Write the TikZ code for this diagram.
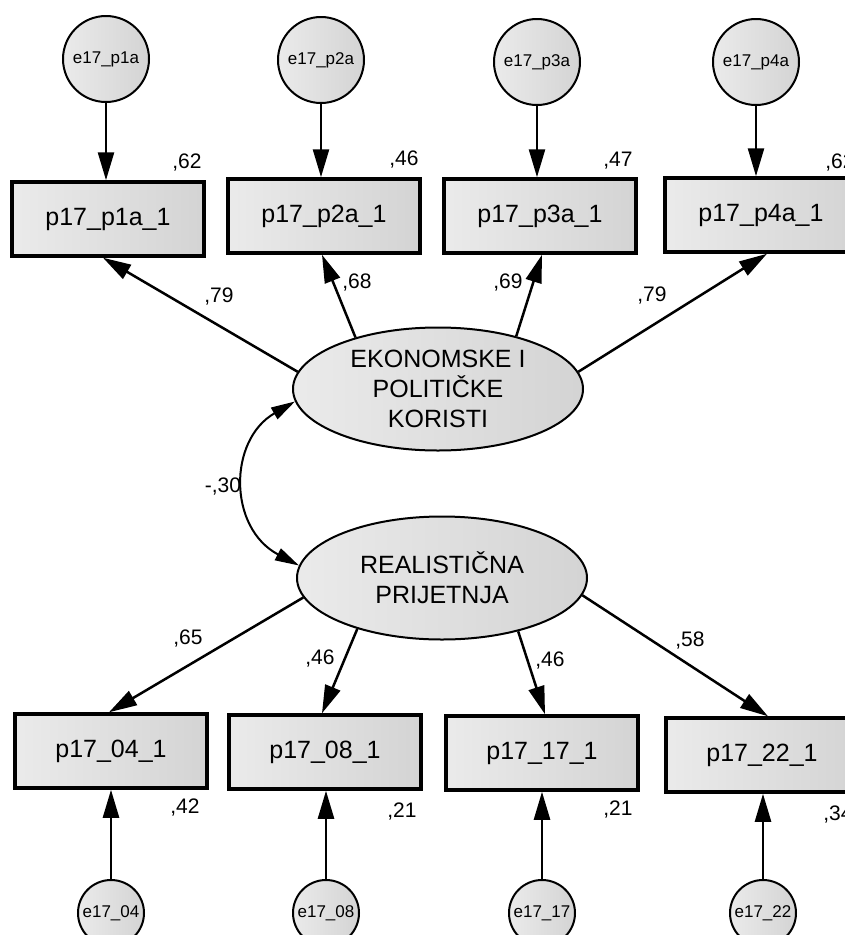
\documentclass[tikz,border=0pt]{standalone}
\usepackage{fontspec}
\setmainfont{Liberation Sans}
\usetikzlibrary{arrows.meta,shapes.geometric}

\tikzset{
  mjer/.style={draw, line width=3.5pt, minimum width=192pt, minimum height=74pt,
    left color=black!8, right color=black!17, font=\fontsize{25}{30}\selectfont},
  gres/.style={circle, draw, line width=2pt, minimum size=86pt, inner sep=0pt,
    left color=black!8, right color=black!17, font=\fontsize{17}{20}\selectfont},
  gresm/.style={gres, minimum size=66pt},
  lat/.style={ellipse, draw, line width=2pt, minimum width=290pt, minimum height=123pt,
    align=center, left color=black!8, right color=black!17,
    font=\fontsize{25}{30}\selectfont},
  koef/.style={font=\fontsize{21}{24}\selectfont},
  put/.style={line width=2.5pt, -{Triangle[length=28pt,width=16pt]}},
}

\begin{document}
\begin{tikzpicture}[x=1pt,y=-1pt]
    \useasboundingbox (0,0) rectangle (845,935);

    % Latentne varijable
    \node[lat] (eko) at (438,389) {EKONOMSKE I\\POLITIČKE\\KORISTI};
    \node[lat] (real) at (442,578) {REALISTIČNA\\PRIJETNJA};

    % Gornji indikatori
    \node[mjer] (p1a) at (108,219) {p17\_p1a\_1};
    \node[mjer] (p2a) at (324,216) {p17\_p2a\_1};
    \node[mjer] (p3a) at (540,216) {p17\_p3a\_1};
    \node[mjer] (p4a) at (761,215) {p17\_p4a\_1};

    \node[gres] (e1a) at (106,59) {e17\_p1a};
    \node[gres] (e2a) at (321,60) {e17\_p2a};
    \node[gres] (e3a) at (537,62) {e17\_p3a};
    \node[gres] (e4a) at (756,62) {e17\_p4a};

    \draw[put] (e1a.south) -- (e1a.south |- p1a.north);
    \draw[put] (e2a.south) -- (e2a.south |- p2a.north);
    \draw[put] (e3a.south) -- (e3a.south |- p3a.north);
    \draw[put] (e4a.south) -- (e4a.south |- p4a.north);

    \draw[put] (eko.173) -- ([xshift=-5pt]p1a.south);
    \draw[put] (eko.148) -- ([xshift=-2pt]p2a.south);
    \draw[put] (eko.34) -- ([xshift=2pt]p3a.south);
    \draw[put] (eko.7) -- ([xshift=6pt]p4a.south);

    \node[koef] at (187,163) {,62};
    \node[koef] at (404,160) {,46};
    \node[koef] at (618,161) {,47};
    \node[koef] at (840,163) {,62};

    \node[koef] at (219,297) {,79};
    \node[koef] at (357,283) {,68};
    \node[koef] at (508,283) {,69};
    \node[koef] at (652,296) {,79};

    % Kovarijanca
    \draw[line width=2pt, {Triangle[length=24pt,width=13pt]}-{Triangle[length=24pt,width=13pt]}]
        (eko.185) .. controls (228,440) and (228,528) .. (real.175);
    \node[koef] at (223,487) {-,30};

    % Donji indikatori
    \node[mjer] (p04) at (111,751) {p17\_04\_1};
    \node[mjer] (p08) at (325,752) {p17\_08\_1};
    \node[mjer] (p17) at (542,753) {p17\_17\_1};
    \node[mjer] (p22) at (762,755) {p17\_22\_1};

    \node[gresm] (e04) at (111,913) {e17\_04};
    \node[gresm] (e08) at (326,913) {e17\_08};
    \node[gresm] (e17) at (542,913) {e17\_17};
    \node[gresm] (e22) at (763,913) {e17\_22};

    \draw[put] (e04.north) -- (e04.north |- p04.south);
    \draw[put] (e08.north) -- (e08.north |- p08.south);
    \draw[put] (e17.north) -- (e17.north |- p17.south);
    \draw[put] (e22.north) -- (e22.north |- p22.south);

    \draw[put] (real.188) -- ([xshift=-2pt]p04.north);
    \draw[put] (real.211) -- ([xshift=-3pt]p08.north);
    \draw[put] (real.325) -- ([xshift=3pt]p17.north);
    \draw[put] (real.353) -- ([xshift=6pt]p22.north);

    \node[koef] at (188,639) {,65};
    \node[koef] at (320,659) {,46};
    \node[koef] at (550,661) {,46};
    \node[koef] at (690,641) {,58};

    \node[koef] at (185,808) {,42};
    \node[koef] at (402,812) {,21};
    \node[koef] at (618,810) {,21};
    \node[koef] at (838,815) {,34};
\end{tikzpicture}
\end{document}
